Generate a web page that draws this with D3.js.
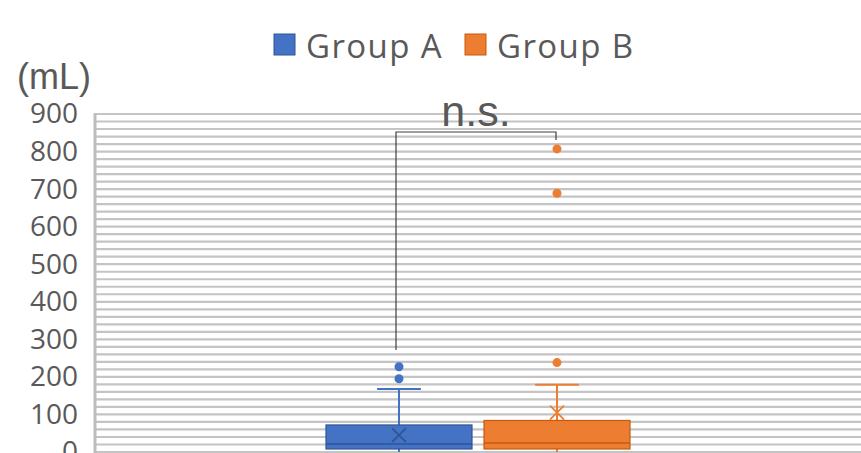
<!DOCTYPE html>
<html>
<head>
<meta charset="utf-8">
<script src="https://cdn.jsdelivr.net/npm/d3@7"></script>
<style>
  body { margin: 0; background: #fff; }
  svg { display: block; font-family: "Open Sans", "Noto Sans", sans-serif; }
</style>
</head>
<body>
<div id="container"></div>
<script>
// data (mL)
const groups = ["Group A", "Group B"];
const colors = ["#4472c4", "#ed7d31"];
const edgeColors = ["#2f5597", "#c55a11"];
const q1 = [8, 8];
const median = [21, 24];
const q3 = [72, 84];
const whiskerLow = [0, 0];
const whiskerHigh = [168, 179];
const means = [45, 105];
const outliers = [[195, 227], [238, 689, 807]];
const yTicks = [0, 100, 200, 300, 400, 500, 600, 700, 800, 900];

const width = 861, height = 453;
const marginLeft = 95, marginTop = 114;

const svg = d3.select("#container").append("svg")
  .attr("width", width).attr("height", height)
  .attr("viewBox", [0, 0, width, height]);

const y = d3.scaleLinear([0, 900], [452, marginTop]);
const x = d3.scaleBand(groups, [326, 630]).paddingInner(0.076);

// dense gridlines every 20 mL
const grid = svg.append("g");
grid.selectAll("line")
  .data(d3.range(0, 901, 20))
  .join("line")
  .attr("x1", marginLeft).attr("x2", width)
  .attr("y1", d => y(d)).attr("y2", d => y(d))
  .attr("stroke", "#c4c4c4")
  .attr("stroke-width", 2.2);

// left axis line
svg.append("line")
  .attr("x1", marginLeft).attr("x2", marginLeft)
  .attr("y1", marginTop - 1).attr("y2", height)
  .attr("stroke", "#bdbdbd").attr("stroke-width", 3);

// y axis labels
const yAxis = d3.axisLeft(y).tickValues(yTicks).tickSize(0).tickPadding(0);
svg.append("g")
  .attr("transform", `translate(78,0)`)
  .call(yAxis)
  .call(g => g.select(".domain").remove())
  .call(g => g.selectAll("text")
    .attr("fill", "#595959")
    .attr("font-size", 28)
    .attr("font-family", "'Open Sans', sans-serif"));

svg.append("text")
  .attr("x", 17).attr("y", 89)
  .attr("fill", "#595959")
  .attr("font-size", 36)
  .attr("font-family", "'Liberation Sans', Arial, sans-serif")
  .text("(mL)");

// boxes
const boxes = svg.append("g")
  .selectAll("g")
  .data(groups)
  .join("g");

const bw = x.bandwidth();
const capW = bw * 0.3;

boxes.each(function (gname, i) {
  const g = d3.select(this);
  const cx = x(gname) + bw / 2;

  // whiskers
  g.append("line")
    .attr("x1", cx).attr("x2", cx)
    .attr("y1", y(q3[i])).attr("y2", y(whiskerHigh[i]))
    .attr("stroke", colors[i]).attr("stroke-width", 2);
  g.append("line")
    .attr("x1", cx - capW / 2).attr("x2", cx + capW / 2)
    .attr("y1", y(whiskerHigh[i])).attr("y2", y(whiskerHigh[i]))
    .attr("stroke", colors[i]).attr("stroke-width", 2);
  g.append("line")
    .attr("x1", cx).attr("x2", cx)
    .attr("y1", y(q1[i])).attr("y2", y(whiskerLow[i]))
    .attr("stroke", colors[i]).attr("stroke-width", 2);

  g.append("rect")
    .attr("x", x(gname)).attr("width", bw)
    .attr("y", y(q3[i])).attr("height", y(q1[i]) - y(q3[i]))
    .attr("fill", colors[i])
    .attr("stroke", edgeColors[i]).attr("stroke-width", 1.2);

  g.append("line")
    .attr("x1", x(gname)).attr("x2", x(gname) + bw)
    .attr("y1", y(median[i])).attr("y2", y(median[i]))
    .attr("stroke", edgeColors[i]).attr("stroke-width", 1.5);

  // mean marker
  const s = 7;
  const my = y(means[i]);
  g.append("path")
    .attr("d", `M${cx - s},${my - s}L${cx + s},${my + s}M${cx - s},${my + s}L${cx + s},${my - s}`)
    .attr("stroke", i === 0 ? edgeColors[i] : colors[i])
    .attr("stroke-width", 1.8)
    .attr("fill", "none");

  g.selectAll("circle")
    .data(outliers[i])
    .join("circle")
    .attr("cx", cx)
    .attr("cy", d => y(d))
    .attr("r", 4.5)
    .attr("fill", colors[i]);
});

// significance bracket
const xa = x(groups[0]) + bw / 2 - 3;
const xb = x(groups[1]) + bw / 2 - 1;
const yTop = 132;
svg.append("path")
  .attr("d", `M${xa},350V${yTop}H${xb}V${yTop + 8}`)
  .attr("fill", "none")
  .attr("stroke", "#404040")
  .attr("stroke-width", 1.2);
svg.append("text")
  .attr("x", 476).attr("y", 126)
  .attr("text-anchor", "middle")
  .attr("fill", "#595959")
  .attr("font-size", 43)
  .attr("font-family", "'Liberation Sans', Arial, sans-serif")
  .text("n.s.");

// legend
const legend = svg.append("g")
  .attr("font-size", 33)
  .attr("letter-spacing", 1.4)
  .attr("fill", "#595959");
const legendX = [274, 465];
groups.forEach((gname, i) => {
  legend.append("rect")
    .attr("x", legendX[i]).attr("y", 34)
    .attr("width", 21).attr("height", 21)
    .attr("fill", colors[i])
    .attr("stroke", edgeColors[i]).attr("stroke-width", 1);
  legend.append("text")
    .attr("x", legendX[i] + 32).attr("y", 58)
    .text(gname);
});
</script>
</body>
</html>
